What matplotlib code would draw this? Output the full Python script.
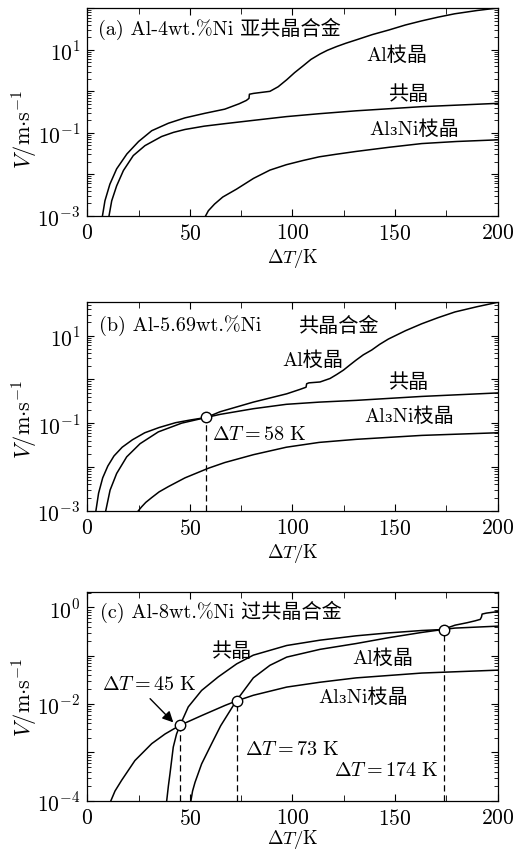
import numpy as np
import matplotlib
matplotlib.use("Agg")
import matplotlib.pyplot as plt
from matplotlib.ticker import LogLocator, MultipleLocator, NullFormatter, FuncFormatter

plt.rcParams['font.family'] = ['cmr10', 'DejaVu Serif', 'Noto Sans CJK SC']
plt.rcParams['mathtext.fontset'] = 'cm'
plt.rcParams['axes.formatter.use_mathtext'] = True
plt.rcParams['axes.unicode_minus'] = False

# ---- (a) Al-4wt.%Ni, values as log10(V) ----
a_al_dt = [7.4, 8.6, 11, 14.3, 19.3, 25, 31.4, 39.5, 47.6, 57.3, 67, 74, 77.5, 78.8, 79.0, 81, 89,
           93, 97.2, 101, 105.3, 109, 113.4, 117, 121.5, 126, 131, 139, 147, 155, 163, 171, 179,
           190, 200]
a_al_lv = [-3, -2.64, -2.24, -1.87, -1.51, -1.21, -0.95, -0.77, -0.64, -0.53, -0.43, -0.3, -0.22,
           -0.17, -0.07, -0.05, 0.0, 0.11, 0.28, 0.45, 0.62, 0.77, 0.90, 0.99, 1.08, 1.16, 1.24,
           1.37, 1.48, 1.60, 1.70, 1.79, 1.87, 1.95, 2.01]
a_eu_dt = [10.6, 11.9, 14.3, 17.6, 22.4, 28.1, 36.2, 42, 47.6, 57, 67, 81, 97, 113, 131, 163, 200]
a_eu_lv = [-3, -2.64, -2.28, -1.91, -1.55, -1.31, -1.09, -0.99, -0.92, -0.84, -0.78, -0.70, -0.61,
           -0.54, -0.47, -0.37, -0.29]
a_ni_dt = [57.7, 59, 62, 66, 72.7, 81, 89, 97, 105, 113, 121, 131, 147, 163, 180, 200]
a_ni_lv = [-3, -2.88, -2.72, -2.55, -2.36, -2.1, -1.9, -1.77, -1.67, -1.58, -1.52, -1.45, -1.35,
           -1.26, -1.21, -1.17]

# ---- (b) Al-5.69wt.%Ni ----
b_eu_dt = [4.2, 5.5, 7.5, 10, 13, 17, 22, 28, 35, 43, 50, 58, 64.7, 81, 97, 113, 131, 163, 200]
b_eu_lv = [-3, -2.6, -2.25, -1.98, -1.75, -1.55, -1.38, -1.22, -1.10, -0.99, -0.93, -0.87, -0.80,
           -0.67, -0.57, -0.52, -0.48, -0.39, -0.31]
b_al_dt = [9, 11.1, 14.3, 19.2, 25.7, 34.6, 46, 58, 64.7, 80.9, 97.2, 103.6, 106.6, 106.9, 108,
           113.4, 118.3, 121.5, 124.8, 128, 131, 134.5, 138.6, 142.5, 146.7, 155, 163, 171, 179.2,
           190, 200]
b_al_lv = [-3, -2.53, -2.15, -1.77, -1.47, -1.20, -1.00, -0.87, -0.74, -0.52, -0.33, -0.23, -0.18,
           -0.10, -0.08, -0.06, 0.02, 0.11, 0.21, 0.33, 0.44, 0.56, 0.67, 0.80, 0.92, 1.11, 1.27,
           1.41, 1.54, 1.66, 1.76]
b_ni_dt = [24.9, 26.5, 28.5, 31.4, 35, 39.5, 47.6, 59, 67, 81, 97, 113, 131, 163, 200]
b_ni_lv = [-3, -2.91, -2.81, -2.70, -2.57, -2.45, -2.25, -2.03, -1.90, -1.72, -1.55, -1.44, -1.37,
           -1.28, -1.22]

# ---- (c) Al-8wt.%Ni ----
c_ni_dt = [11.5, 13.5, 16.7, 23.2, 31.4, 37.9, 45.2, 55.7, 67.1, 72.5, 80.9, 97.2, 113.4, 131,
           163, 200]
c_ni_lv = [-4, -3.8, -3.58, -3.17, -2.82, -2.62, -2.44, -2.24, -2.03, -1.94, -1.82, -1.65, -1.55,
           -1.46, -1.36, -1.30]
c_eu_dt = [38.7, 39.5, 40.3, 41.9, 43.5, 45.2, 49.2, 55.7, 63.8, 72.8, 80.9, 97.2, 113.4, 131,
           146.7, 163, 173.2, 179.2, 200]
c_eu_lv = [-4, -3.7, -3.44, -2.89, -2.62, -2.44, -2.06, -1.72, -1.44, -1.17, -0.99, -0.79, -0.68,
           -0.59, -0.53, -0.48, -0.46, -0.43, -0.39]
c_al_dt = [50.5, 51.3, 52.5, 55.7, 60.6, 65, 72.5, 80.9, 89, 97.2, 113.4, 131, 146.7, 163, 173.2,
           179.2, 185, 189, 191.5, 192.1, 192.4, 194.5, 200]
c_al_lv = [-4, -3.8, -3.62, -3.24, -2.82, -2.45, -1.94, -1.46, -1.20, -1.03, -0.87, -0.75, -0.63,
           -0.52, -0.46, -0.37, -0.32, -0.28, -0.25, -0.20, -0.14, -0.12, -0.09]

# intersection points (ΔT, log10 V)
b_cross_dt = [58]
b_cross_lv = [-0.87]
c_cross_dt = [45, 73, 174]
c_cross_lv = [-2.44, -1.93, -0.46]

# labelled decades on the y axis
a_ylabels = [1, -1, -3]
b_ylabels = [1, -1, -3]
c_ylabels = [0, -2, -4]


def V(lv):
    return 10.0 ** np.array(lv)


fig = plt.figure(figsize=(5.14, 8.53), dpi=100)
W, H = 514.0, 853.0


def make_ax(top, bottom, ylo, yhi, labelled, ylab_y, xlab_y=-0.145):
    ax = fig.add_axes([87.3 / W, 1 - bottom / H, 410.4 / W, (bottom - top) / H])
    ax.set_yscale('log')
    ax.set_xlim(0, 200)
    ax.set_ylim(ylo, yhi)
    ax.xaxis.set_major_locator(MultipleLocator(50))
    ax.xaxis.set_minor_locator(MultipleLocator(25))
    ax.yaxis.set_major_locator(LogLocator(base=10, subs=(1.0,), numticks=20))
    ax.yaxis.set_minor_locator(LogLocator(base=10, subs=np.arange(2, 10), numticks=20))
    ax.yaxis.set_minor_formatter(NullFormatter())

    def fmt(v, p):
        e = int(round(np.log10(v)))
        return r"$10^{%d}$" % e if e in labelled else ""
    ax.yaxis.set_major_formatter(FuncFormatter(fmt))
    ax.tick_params(which='both', direction='in', top=True, right=True, labelsize=15.5)
    ax.tick_params(which='major', length=5, width=0.8, pad=5)
    ax.tick_params(which='minor', length=3, width=0.6)
    ax.tick_params(axis='x', which='minor', length=4)
    for s in ax.spines.values():
        s.set_linewidth(0.9)
    ax.set_xlabel(r"$\Delta T/\mathrm{K}$", fontsize=13.5)
    ax.set_ylabel(r"$V/\mathrm{m{\cdot}s^{-1}}$", fontsize=16)
    ax.xaxis.set_label_coords(0.5, xlab_y)
    ax.yaxis.set_label_coords(-0.115, ylab_y)
    return ax


lw = 1.1
txt = dict(fontsize=14.5, va='center')

# (a)
ax1 = make_ax(9.0, 216.7, 1e-3, 10 ** 2.01, a_ylabels, 0.42)
ax1.plot(a_al_dt, V(a_al_lv), 'k-', lw=lw)
ax1.plot(a_eu_dt, V(a_eu_lv), 'k-', lw=lw)
ax1.plot(a_ni_dt, V(a_ni_lv), 'k-', lw=lw)
ax1.text(5.4, 10 ** 1.52, "(a) Al-4wt.%Ni 亚共晶合金", ha='left', **txt)
ax1.text(136.1, 10 ** 0.88, "Al枝晶", ha='left', **txt)
ax1.text(156.6, 10 ** -0.06, "共晶", ha='center', **txt)
ax1.text(137.4, 10 ** -0.91, "Al₃Ni枝晶", ha='left', **txt)

# (b)
ax2 = make_ax(303.3, 511.7, 1e-3, 10 ** 1.76, b_ylabels, 0.445)
ax2.plot(b_eu_dt, V(b_eu_lv), 'k-', lw=lw)
ax2.plot(b_al_dt, V(b_al_lv), 'k-', lw=lw)
ax2.plot(b_ni_dt, V(b_ni_lv), 'k-', lw=lw)
for x, lv in zip(b_cross_dt, b_cross_lv):
    ax2.plot([x, x], [1e-3, V(lv)], color='k', lw=0.9, dashes=(5, 3), zorder=2)
ax2.plot(b_cross_dt, V(b_cross_lv), 'o', ms=7.5, mfc='white', mec='k', mew=1.0, zorder=5)
ax2.text(5.8, 10 ** 1.24, "(b) Al-5.69wt.%Ni", ha='left', **txt)
ax2.text(102.8, 10 ** 1.24, "共晶合金", ha='left', **txt)
ax2.text(95.2, 10 ** 0.44, "Al枝晶", ha='left', **txt)
ax2.text(156.6, 10 ** -0.05, "共晶", ha='center', **txt)
ax2.text(134.8, 10 ** -0.84, "Al₃Ni枝晶", ha='left', **txt)
ax2.text(60.6, 10 ** -1.25, r"$\Delta T=58\ \mathrm{K}$", ha='left', **txt)

# (c)
ax3 = make_ax(593.3, 801.7, 1e-4, 10 ** 0.31, c_ylabels, 0.50, xlab_y=-0.125)
ax3.plot(c_ni_dt, V(c_ni_lv), 'k-', lw=lw)
ax3.plot(c_eu_dt, V(c_eu_lv), 'k-', lw=lw)
ax3.plot(c_al_dt, V(c_al_lv), 'k-', lw=lw)
for x, lv in zip(c_cross_dt, c_cross_lv):
    ax3.plot([x, x], [1e-4, V(lv)], color='k', lw=0.9, dashes=(5, 3), zorder=2)
ax3.plot(c_cross_dt, V(c_cross_lv), 'o', ms=7.5, mfc='white', mec='k', mew=1.0, zorder=5)
ax3.text(6.2, 10 ** -0.07, "(c) Al-8wt.%Ni 过共晶合金", ha='left', **txt)
ax3.text(70.3, 10 ** -0.90, "共晶", ha='center', **txt)
ax3.text(129.3, 10 ** -1.05, "Al枝晶", ha='left', **txt)
ax3.text(112.6, 10 ** -1.84, "Al₃Ni枝晶", ha='left', **txt)
ax3.text(7.0, 10 ** -1.59, r"$\Delta T=45\ \mathrm{K}$", ha='left', **txt)
ax3.text(76.8, 10 ** -2.93, r"$\Delta T=73\ \mathrm{K}$", ha='left', **txt)
ax3.text(120.4, 10 ** -3.36, r"$\Delta T=174\ \mathrm{K}$", ha='left', **txt)
ax3.annotate("", xy=(41.9, 10 ** -2.38), xytext=(30.6, 10 ** -1.89),
             arrowprops=dict(arrowstyle='-|>', color='k', lw=1.0, mutation_scale=16,
                             shrinkA=0, shrinkB=0))

fig.savefig("out.png", dpi=100)
